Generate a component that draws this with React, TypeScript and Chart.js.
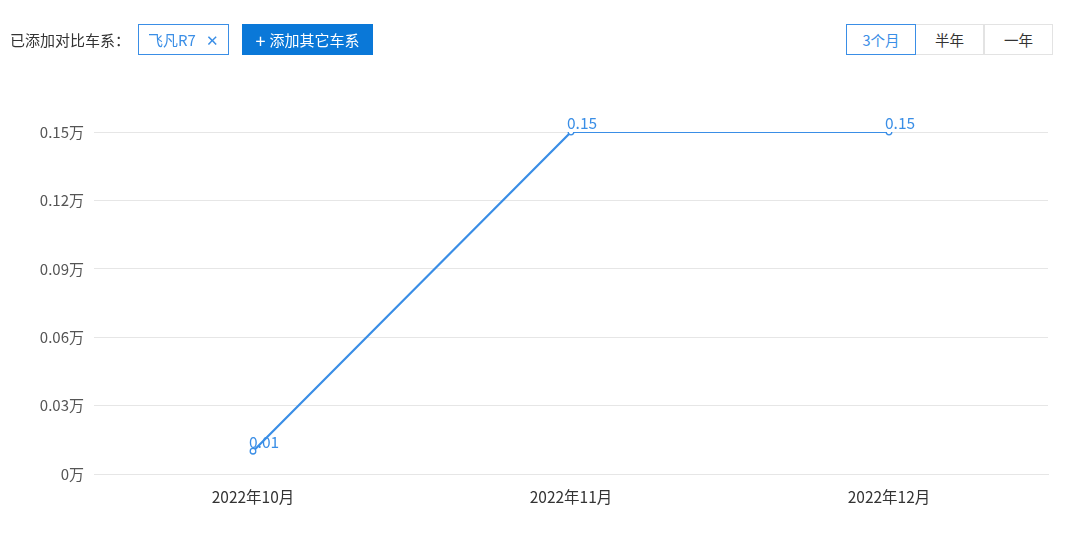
import { useEffect, useRef } from "react";
import { Chart, registerables, Plugin } from "chart.js";

Chart.register(...registerables);

const months = ["2022年10月", "2022年11月", "2022年12月"];
const sales = [0.01, 0.15, 0.15];
const yTicks = [0, 0.03, 0.06, 0.09, 0.12, 0.15];
const seriesName = "飞凡R7";
const ranges = ["3个月", "半年", "一年"];

const FONT = "'Noto Sans CJK SC', 'Noto Sans', sans-serif";
const BLUE = "#3a8ee6";

// draws the value above each point
const valueLabels: Plugin<"line"> = {
  id: "valueLabels",
  afterDatasetsDraw(chart) {
    const ctx = chart.ctx;
    const meta = chart.getDatasetMeta(0);
    ctx.save();
    ctx.font = `15.5px ${FONT}`;
    ctx.fillStyle = BLUE;
    ctx.textAlign = "left";
    ctx.textBaseline = "middle";
    meta.data.forEach((pt, i) => {
      ctx.fillText(String(sales[i]), pt.x - 4, pt.y - 9);
    });
    ctx.restore();
  }
};

function SalesChart() {
  const canvasRef = useRef<HTMLCanvasElement | null>(null);

  useEffect(() => {
    if (!canvasRef.current) return;
    const chart = new Chart(canvasRef.current, {
      type: "line",
      data: {
        labels: months,
        datasets: [
          {
            label: seriesName,
            data: sales,
            borderColor: BLUE,
            backgroundColor: "#ffffff",
            borderWidth: 2.2,
            pointRadius: 2.8,
            pointBorderWidth: 1.3,
            pointBorderColor: BLUE,
            tension: 0
          }
        ]
      },
      options: {
        animation: false,
        responsive: false,
        maintainAspectRatio: false,
        layout: { padding: { top: 132, right: 32, left: 0, bottom: 0 } },
        plugins: {
          legend: { display: false },
          tooltip: { enabled: false }
        },
        scales: {
          x: {
            offset: true,
            afterFit: (s) => {
              s.height = 63;
            },
            grid: { display: false, drawTicks: false },
            border: { display: true, color: "#e6e6e6" },
            ticks: { color: "#333", padding: 14, font: { size: 15.5, family: FONT } }
          },
          y: {
            min: 0,
            max: 0.15,
            afterFit: (s) => {
              s.width = 94;
            },
            afterBuildTicks: (s) => {
              s.ticks = yTicks.map((v) => ({ value: v }));
            },
            grid: { color: "#e6e6e6", drawTicks: false },
            border: { display: false },
            ticks: {
              color: "#555",
              padding: 10,
              font: { size: 15, family: FONT },
              callback: (v) => `${Number(v)}万`
            }
          }
        }
      },
      plugins: [valueLabels]
    });
    return () => chart.destroy();
  }, []);

  return <canvas ref={canvasRef} width={1080} height={537} style={{ position: "absolute", left: 0, top: 0 }} />;
}

export default function App() {
  const box = {
    position: "absolute" as const,
    top: 24,
    height: 31,
    boxSizing: "border-box" as const,
    display: "flex",
    alignItems: "center",
    justifyContent: "center",
    fontSize: 15
  };
  return (
    <div
      style={{
        position: "fixed",
        left: 0,
        top: 0,
        width: 1080,
        height: 537,
        background: "#fff",
        fontFamily: FONT,
        overflow: "hidden"
      }}
    >
      <SalesChart />
      <div style={{ ...box, left: 10, color: "#333" }}>已添加对比车系：</div>
      <div style={{ ...box, left: 138, width: 91, border: `1px solid ${BLUE}`, color: BLUE }}>
        {seriesName}
        <span style={{ marginLeft: 10, fontSize: 15 }}>✕</span>
      </div>
      <div style={{ ...box, left: 242, width: 131, background: "#0a78d8", color: "#fff" }}>
        <span style={{ fontSize: 18, marginRight: 4 }}>+</span>添加其它车系
      </div>
      {ranges.map((r, i) => (
        <div
          key={r}
          style={{
            ...box,
            left: 846 + i * 69,
            width: i === 0 ? 70 : 69,
            fontSize: 14.5,
            zIndex: i === 0 ? 2 : 1,
            border: `1px solid ${i === 0 ? BLUE : "#e3e3e3"}`,
            color: i === 0 ? BLUE : "#333",
            background: "#fff"
          }}
        >
          {r}
        </div>
      ))}
    </div>
  );
}
